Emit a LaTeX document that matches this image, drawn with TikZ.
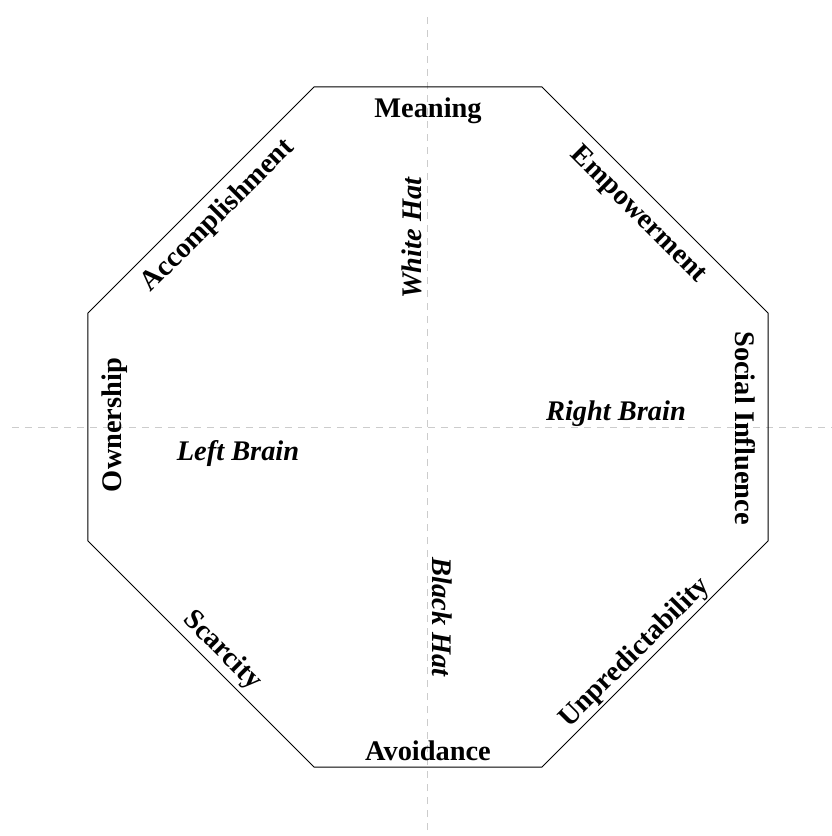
\documentclass[tikz,border=0pt]{standalone}
\usepackage{fontspec}
\setmainfont{Liberation Serif}
\usepackage{tikz}

\begin{document}
\begin{tikzpicture}[x=0.5pt, y=0.5pt,
    drive/.style={font=\fontsize{14.2}{17}\selectfont\bfseries, inner sep=0pt},
    brain/.style={font=\fontsize{14.2}{17}\selectfont\bfseries\itshape, inner sep=0pt},
    guide/.style={gray!40, line width=0.5pt, dash pattern=on 3.5pt off 3pt}]
    % Canvas (octagon centre at the origin)
    \useasboundingbox (-428,-409) rectangle (403,427);

    % Guide lines through the centre
    \draw[guide] (0,-416) -- (0,416);
    \draw[guide] (-416,0) -- (416,0);

    % Octagon
    \draw[line width=0.5pt] (-114,340) -- (114,340) -- (340,114) -- (340,-114)
        -- (114,-340) -- (-114,-340) -- (-340,-114) -- (-340,114) -- cycle;

    % Core drives on the sides
    \node[drive, anchor=base] (meaning) at (0,309) {Meaning};
    \node[drive, rotate=-45] (empowerment) at (210,212) {Empowerment};
    \node[drive, anchor=base, rotate=-90] (social) at (307,-1) {Social Influence};
    \node[drive, rotate=45] (unpredict) at (207,-226) {Unpredictability};
    \node[drive, anchor=base] (avoidance) at (0,-333) {Avoidance};
    \node[drive, rotate=-45] (scarcity) at (-206,-224) {Scarcity};
    \node[drive, anchor=base, rotate=90] (ownership) at (-306,2) {Ownership};
    \node[drive, rotate=45] (accomplish) at (-210,211) {Accomplishment};

    % Hats and brain halves
    \node[brain, anchor=base, rotate=90] (whitehat) at (-6,189) {White Hat};
    \node[brain, anchor=base, rotate=-90] (blackhat) at (5,-190) {Black Hat};
    \node[brain, anchor=base] (leftbrain) at (-190,-33) {Left Brain};
    \node[brain, anchor=base] (rightbrain) at (188,7) {Right Brain};
\end{tikzpicture}
\end{document}
